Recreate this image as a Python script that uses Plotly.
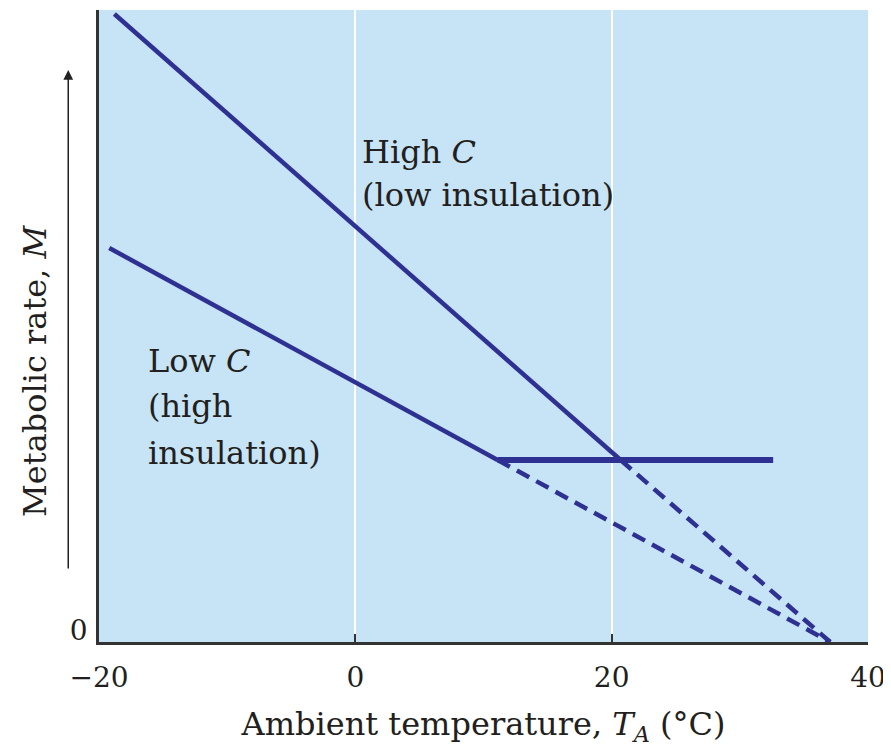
import plotly.graph_objects as go

# Data (x: ambient temperature °C, y: metabolic rate, arbitrary units)
high_c_solid_x = [-18.8, 20.7]
high_c_solid_y = [62.8, 18.2]
high_c_dash_x = [20.7, 37.05]
high_c_dash_y = [18.2, 0.0]

low_c_solid_x = [-19.2, 11.1]
low_c_solid_y = [39.4, 18.2]
low_c_dash_x = [11.1, 37.05]
low_c_dash_y = [18.2, 0.0]

basal_x = [11.1, 32.6]
basal_y = [18.2, 18.2]

x_ticks = [-20, 0, 20, 40]
x_tick_labels = ["\u221220", "0", "20", "40"]

LINE = "#2E3192"
TEXT = "#231F20"
BG = "#C6E4F6"
FONT = "DejaVu Serif"
FS = 32
TFS = 28

fig = go.Figure()
fig.add_trace(go.Scatter(x=high_c_solid_x, y=high_c_solid_y, mode="lines",
                         line=dict(color=LINE, width=4.5)))
fig.add_trace(go.Scatter(x=high_c_dash_x, y=high_c_dash_y, mode="lines",
                         line=dict(color=LINE, width=4.5, dash="14px,8px")))
fig.add_trace(go.Scatter(x=low_c_solid_x, y=low_c_solid_y, mode="lines",
                         line=dict(color=LINE, width=4.5)))
fig.add_trace(go.Scatter(x=low_c_dash_x, y=low_c_dash_y, mode="lines",
                         line=dict(color=LINE, width=4.5, dash="14px,8px")))
fig.add_trace(go.Scatter(x=basal_x, y=basal_y, mode="lines",
                         line=dict(color=LINE, width=6)))

fig.update_layout(
    width=883, height=744,
    margin=dict(l=91, r=23, t=2, b=110),
    paper_bgcolor="white",
    plot_bgcolor=BG,
    showlegend=False,
    font=dict(family=FONT, color=TEXT, size=FS),
    xaxis=dict(range=[-20, 40], tickvals=x_ticks, ticktext=x_tick_labels,
               showgrid=True, gridcolor="white", gridwidth=1.5,
               ticks="inside", ticklen=8, tickwidth=2, tickcolor="#333333",
               showline=True, linecolor="#333333", linewidth=2.5,
               zeroline=False, ticklabelstandoff=9,
               tickfont=dict(size=TFS, family=FONT, color=TEXT),
               title=dict(text="Ambient temperature, <i>T</i><sub><i>A</i></sub> (°C)",
                          font=dict(size=FS, family=FONT, color=TEXT), standoff=20)),
    yaxis=dict(range=[0, 63.2], tickvals=[0], ticktext=["0"], showgrid=False,
               showline=True, linecolor="#333333", linewidth=2.5, zeroline=False,
               ticks="", ticklabelshift=-12, ticklabelstandoff=3,
               tickfont=dict(size=TFS, family=FONT, color=TEXT)),
)

fig.add_annotation(xref="paper", yref="paper", x=-0.0832, y=0.429,
                   xanchor="center", yanchor="middle",
                   text="Metabolic rate, <i>M</i>", textangle=-90, showarrow=False,
                   font=dict(size=FS, family=FONT, color=TEXT))
fig.add_annotation(xref="paper", yref="paper", x=-0.040, y=0.905,
                   axref="pixel", ayref="pixel", ax=0, ay=500,
                   text="", showarrow=True, arrowhead=2, arrowsize=1.3,
                   arrowwidth=1.5, arrowcolor="#222222")

label_lines = [
    ("High <i>C</i>", 0.4, 51.1),
    ("(low insulation)", 0.4, 46.8),
    ("Low <i>C</i>", -16.3, 30.2),
    ("(high", -16.3, 25.7),
    ("insulation)", -16.3, 21.0),
]
for txt, lx, ly in label_lines:
    fig.add_annotation(x=lx, y=ly, xanchor="left", yanchor="top", align="left",
                       text=txt, showarrow=False,
                       font=dict(size=FS, family=FONT, color=TEXT))

fig.write_html("out.html")
